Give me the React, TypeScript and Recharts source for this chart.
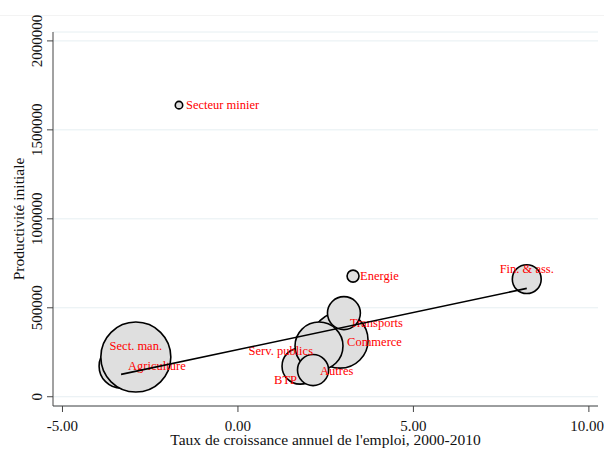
import React from "react";
import {
  ScatterChart,
  Scatter,
  XAxis,
  YAxis,
  ZAxis,
  CartesianGrid,
} from "recharts";

// sectors, employment growth 2000-2010 (%), initial productivity, employment weight
const sectors = [
  "Agriculture",
  "Sect. man.",
  "Secteur minier",
  "BTP",
  "Commerce",
  "Serv. publics",
  "Autres",
  "Transports",
  "Energie",
  "Fin. & ass.",
];
const growth = [-3.33, -2.91, -1.68, 1.77, 2.91, 2.31, 2.14, 3.02, 3.28, 8.23];
const productivity = [
  172000, 223000, 1639000, 172000, 318000, 285000, 150000, 470000, 678000, 661000,
];
const employmentWeight = [11.6, 29.4, 0.33, 7.8, 18.8, 13.8, 5.8, 6.5, 0.86, 5.0];

// fitted values (lfit) at the min and max of x
const fitX = [-3.33, 8.23];
const fitY = [125800, 609000];

const xTicks = [-5, 0, 5, 10];
const yTicks = [0, 500000, 1000000, 1500000, 2000000];

const points = sectors.map((name, i) => ({
  name,
  x: growth[i],
  y: productivity[i],
  w: employmentWeight[i],
}));
const fitLine = fitX.map((x, i) => ({ x, y: fitY[i], w: 0 }));

const serif = '"Liberation Serif", "Times New Roman", serif';

// clock-position style label offsets (Stata mlabvpos)
const labelPlacement: Record<string, { dx: number; dy: number; anchor: "start" | "middle" | "end" }> = {
  Agriculture: { dx: 7, dy: 0, anchor: "start" },
  "Sect. man.": { dx: 0, dy: -11, anchor: "middle" },
  "Secteur minier": { dx: 7, dy: 0, anchor: "start" },
  BTP: { dx: -3, dy: 14, anchor: "end" },
  Commerce: { dx: 7, dy: 2, anchor: "start" },
  "Serv. publics": { dx: -6, dy: 5, anchor: "end" },
  Autres: { dx: 7, dy: 1, anchor: "start" },
  Transports: { dx: 6, dy: 10, anchor: "start" },
  Energie: { dx: 7, dy: 0, anchor: "start" },
  "Fin. & ass.": { dx: 0, dy: -10, anchor: "middle" },
};

const Bubble = (props: any) => {
  const { cx, cy, size, width } = props;
  if (cx == null || cy == null) return null;
  const r = typeof size === "number" ? Math.sqrt(size / Math.PI) : (width || 8) / 2;
  return (
    <circle cx={cx} cy={cy} r={r} fill="#dfdfdf" stroke="#000" strokeWidth={1.6} />
  );
};

const BubbleLabel = (props: any) => {
  const { cx, cy, payload } = props;
  if (cx == null || cy == null || !payload) return null;
  const p = labelPlacement[payload.name] || { dx: 7, dy: 0, anchor: "start" };
  return (
    <text
      x={cx + p.dx}
      y={cy + p.dy}
      textAnchor={p.anchor}
      dominantBaseline="central"
      fill="#ff0000"
      fontSize={12.5}
      fontFamily={serif}
    >
      {payload.name}
    </text>
  );
};

const YTick = (props: any) => {
  const { x, y, payload } = props;
  const bx = x - 3;
  return (
    <text
      x={bx}
      y={y}
      textAnchor="middle"
      transform={`rotate(-90, ${bx}, ${y})`}
      fill="#111"
      fontSize={15}
      fontFamily={serif}
    >
      {payload.value}
    </text>
  );
};

const YTitle = (props: any) => {
  const vb = props.viewBox || { x: 0, y: 32, width: 53, height: 374 };
  const tx = vb.x + 24;
  const ty = vb.y + vb.height / 2;
  return (
    <text
      x={tx}
      y={ty}
      textAnchor="middle"
      transform={`rotate(-90, ${tx}, ${ty})`}
      fill="#111"
      fontSize={15.5}
      fontFamily={serif}
    >
      Productivité initiale
    </text>
  );
};

const XTitle = (props: any) => {
  const vb = props.viewBox || { x: 53, y: 406, width: 545, height: 43 };
  return (
    <text
      x={vb.x + vb.width / 2}
      y={vb.y + 39}
      textAnchor="middle"
      fill="#111"
      fontSize={15.5}
      fontFamily={serif}
    >
      Taux de croissance annuel de l'emploi, 2000-2010
    </text>
  );
};

export default function App() {
  return (
    <div
      style={{
        position: "absolute",
        left: 0,
        top: 0,
        width: 604,
        height: 449,
        background: "#fff",
        overflow: "hidden",
      }}
    >
      <div
        style={{
          position: "absolute",
          left: 0,
          top: 15,
          width: 604,
          height: 1,
          background: "#f3f3f3",
        }}
      />
      <ScatterChart
        width={604}
        height={449}
        margin={{ top: 32, right: 6, bottom: 0, left: 0 }}
      >
        <CartesianGrid vertical={false} stroke="#e6eff2" strokeWidth={1} />
        <XAxis
          type="number"
          dataKey="x"
          domain={[-5.27, 10.26]}
          ticks={xTicks}
          allowDataOverflow
          height={43}
          tickSize={6}
          tickMargin={8}
          tickFormatter={(v: number) => v.toFixed(2)}
          stroke="#444"
          tick={{ fill: "#111", fontSize: 15, fontFamily: serif }}
          label={{ content: XTitle }}
        />
        <YAxis
          type="number"
          dataKey="y"
          domain={[-52000, 2050000]}
          ticks={yTicks}
          allowDataOverflow
          width={53}
          tickSize={6}
          stroke="#444"
          tick={<YTick />}
          label={{ content: YTitle }}
        />
        <ZAxis type="number" dataKey="w" domain={[0, 30]} range={[0, 3927]} />
        <Scatter data={points} shape={<Bubble />} isAnimationActive={false} />
        <Scatter data={points} shape={<BubbleLabel />} isAnimationActive={false} />
        <Scatter
          data={fitLine}
          line={{ stroke: "#000", strokeWidth: 1.6 }}
          shape={() => null}
          isAnimationActive={false}
        />
      </ScatterChart>
    </div>
  );
}
